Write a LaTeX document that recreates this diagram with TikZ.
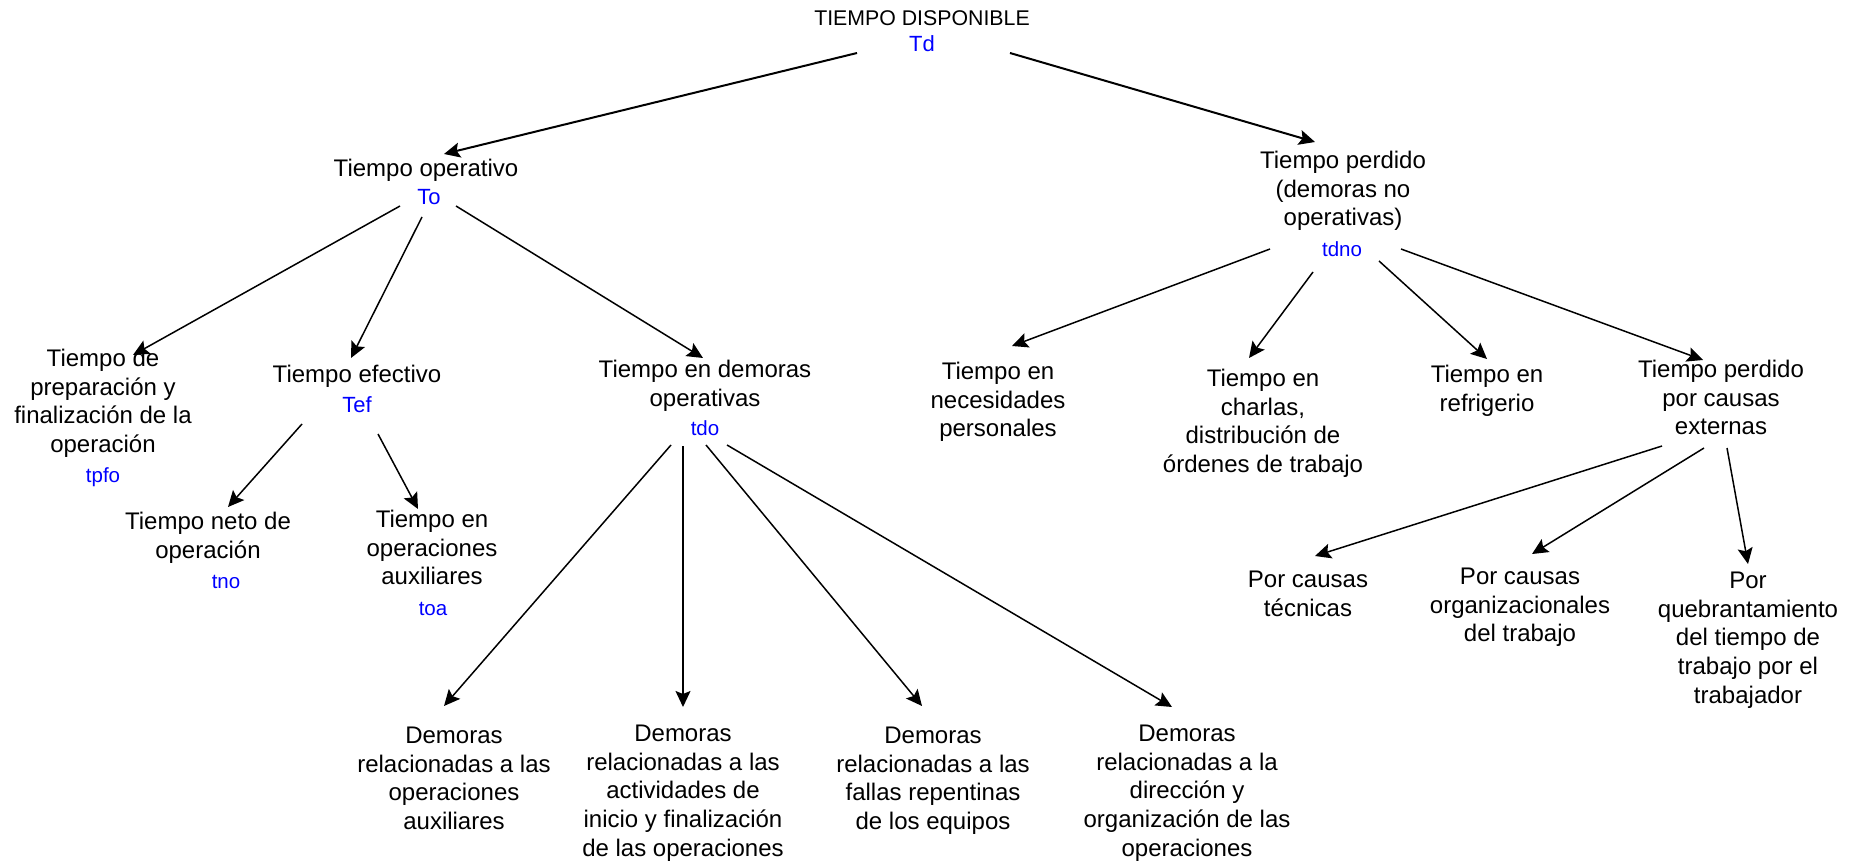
\documentclass[tikz,border=0pt]{standalone}
\usepackage{fontspec}
\setmainfont{Liberation Sans}
\usetikzlibrary{arrows.meta}
\begin{document}
\begin{tikzpicture}[x=1pt,y=-1pt,
  box/.style={anchor=north, inner sep=0pt, align=center, font=\fontsize{24}{28.6}\selectfont},
  ttl/.style={anchor=base, inner sep=0pt, font=\fontsize{21.3}{25}\selectfont},
  sym/.style={anchor=base, inner sep=0pt, text=blue, font=\fontsize{20.5}{24}\selectfont},
  symT/.style={anchor=base, inner sep=0pt, text=blue, font=\fontsize{22}{24}\selectfont},
  arr/.style={-{Stealth[length=16pt,width=15pt,inset=3pt]}, line width=1.5pt},
  arrw/.style={arr, line width=2pt}]
\useasboundingbox (0,0) rectangle (1854,866);

% title
\node[ttl] (td) at (922,26) {TIEMPO DISPONIBLE};
\node[symT] (tdL) at (922,52) {Td};

% level 1
\node[box] (op) at (426,159) {Tiempo operativo};
\node[symT] (opL) at (429,205) {To};
\node[box] (pe) at (1343,151) {Tiempo perdido\\(demoras no\\operativas)};
\node[sym] (peL) at (1342,257) {tdno};

% level 2 left
\node[box] (pf) at (103,349) {Tiempo de\\preparación y\\finalización de la\\operación};
\node[sym] (pfL) at (103,482) {tpfo};
\node[box] (ef) at (357,365) {Tiempo efectivo};
\node[symT] (efL) at (357,412) {Tef};
\node[box] (dm) at (705,360) {Tiempo en demoras\\operativas};
\node[sym] (dmL) at (705,435) {tdo};

% level 3 under efectivo
\node[box] (ne) at (208,512) {Tiempo neto de\\operación};
\node[sym] (neL) at (226,588) {tno};
\node[box] (ox) at (432,510) {Tiempo en\\operaciones\\auxiliares};
\node[sym] (oxL) at (433,615) {toa};

% demoras
\node[box] (d1) at (454,727) {Demoras\\relacionadas a las\\operaciones\\auxiliares};
\node[box] (d2) at (683,725) {Demoras\\relacionadas a las\\actividades de\\inicio y finalización\\de las operaciones};
\node[box] (d3) at (933,727) {Demoras\\relacionadas a las\\fallas repentinas\\de los equipos};
\node[box] (d4) at (1187,725) {Demoras\\relacionadas a la\\dirección y\\organización de las\\operaciones};

% level 2 right
\node[box] (n1) at (998,362) {Tiempo en\\necesidades\\personales};
\node[box] (n2) at (1263,369) {Tiempo en\\charlas,\\distribución de\\órdenes de trabajo};
\node[box] (n3) at (1487,365) {Tiempo en\\refrigerio};
\node[box] (n4) at (1721,360) {Tiempo perdido\\por causas\\externas};

% level 3 right
\node[box] (c1) at (1308,571) {Por causas\\técnicas};
\node[box] (c2) at (1520,568) {Por causas\\organizacionales\\del trabajo};
\node[box] (c3) at (1748,572) {Por\\quebrantamiento\\del tiempo de\\trabajo por el\\trabajador};

% connectors
\draw[arrw] ([shift={(-65,1)}]tdL.base) -- ([shift={(18,-5)}]op.north);
\draw[arrw] ([shift={(88,1)}]tdL.base) -- ([shift={(-28,-9)}]pe.north);
\draw[arr] ([shift={(-29,1)}]opL.base) -- ([shift={(30,6)}]pf.north);
\draw[arr] ([shift={(-7,12)}]opL.base) -- ([shift={(-6,-7)}]ef.north);
\draw[arr] ([shift={(27,1)}]opL.base) -- ([shift={(-2,-2)}]dm.north);
\draw[arr] ([shift={(-55,12)}]efL.base) -- ([shift={(20,-5)}]ne.north);
\draw[arr] ([shift={(21,22)}]efL.base) -- ([shift={(-14,-1)}]ox.north);
\draw[arr] ([shift={(-34,10)}]dmL.base) -- ([shift={(-10,-21)}]d1.north);
\draw[arr] ([shift={(-22,11)}]dmL.base) -- ([shift={(0,-18)}]d2.north);
\draw[arr] ([shift={(1,10)}]dmL.base) -- ([shift={(-11,-21)}]d3.north);
\draw[arr] ([shift={(22,10)}]dmL.base) -- ([shift={(-15,-18)}]d4.north);
\draw[arr] ([shift={(-72,-8)}]peL.base) -- ([shift={(14,-16)}]n1.north);
\draw[arr] ([shift={(-29,15)}]peL.base) -- ([shift={(-14,-11)}]n2.north);
\draw[arr] ([shift={(37,4)}]peL.base) -- ([shift={(0,-6)}]n3.north);
\draw[arr] ([shift={(59,-8)}]peL.base) -- ([shift={(-18,0)}]n4.north);
\draw[arr] ([shift={(-59,86)}]n4.north) -- ([shift={(7,-15)}]c1.north);
\draw[arr] ([shift={(-17,88)}]n4.north) -- ([shift={(12,-14)}]c2.north);
\draw[arr] ([shift={(6,88)}]n4.north) -- ([shift={(0,-8)}]c3.north);
\end{tikzpicture}
\end{document}
